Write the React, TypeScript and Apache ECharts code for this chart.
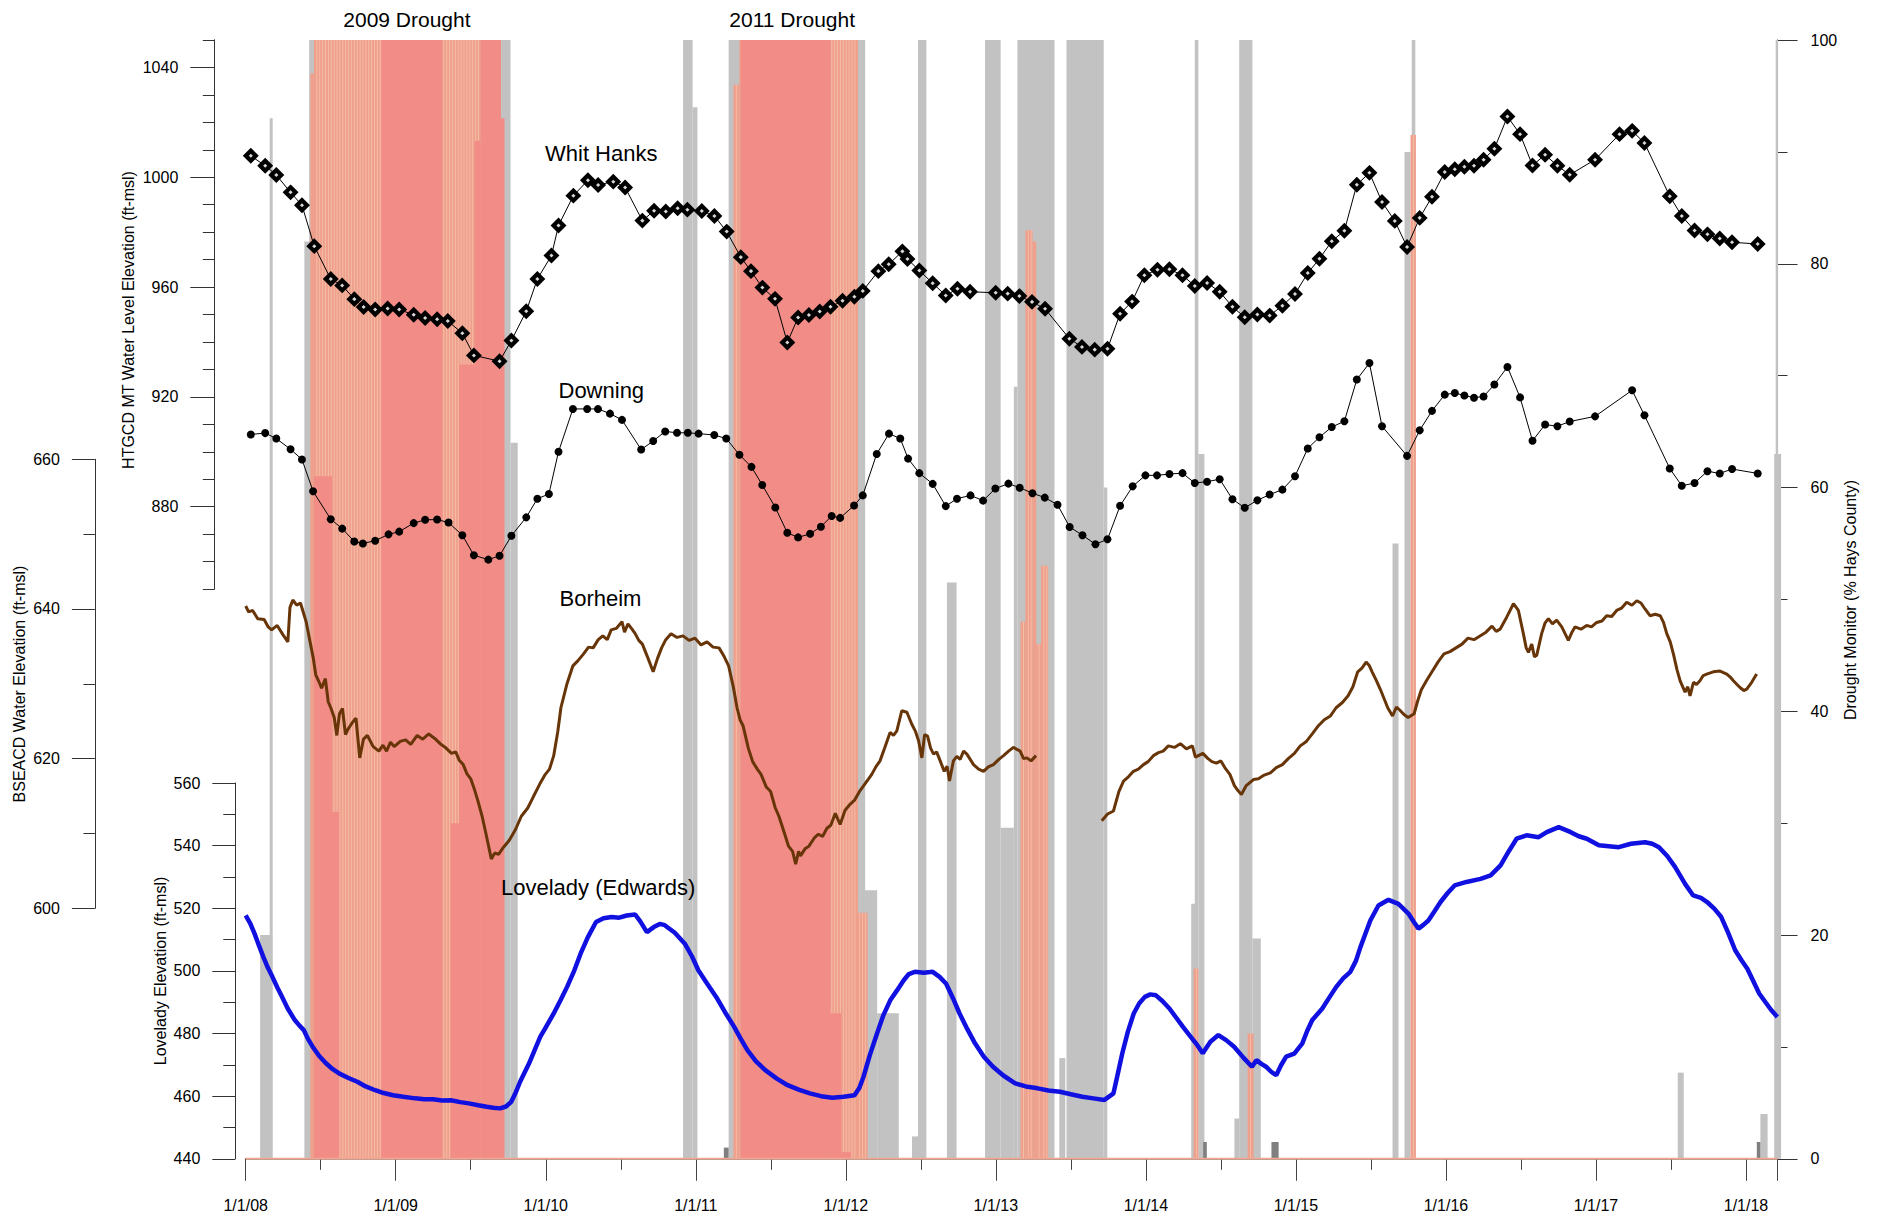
import React, { useEffect, useRef } from 'react';
import * as echarts from 'echarts';

// ---------------- data (x = decimal year) ----------------
const X_MIN = 2008;
const X_MAX = 2018.21;
const YEAR_TICKS = [2008, 2009, 2010, 2011, 2012, 2013, 2014, 2015, 2016, 2017, 2018];
const HTGCD_LABELS = [880, 920, 960, 1000, 1040];
const WEEK = 1 / 52;

const whitHanks: number[][] = [
  [2008.034, 1007.8], [2008.13, 1004.2], [2008.204, 1000.8], [2008.299, 994.5], [2008.375, 989.8], [2008.457, 974.9],
  [2008.567, 962.9], [2008.643, 960.6], [2008.724, 955.6], [2008.786, 952.7], [2008.863, 951.8], [2008.946, 952.2],
  [2009.023, 951.8], [2009.12, 949.9], [2009.196, 948.7], [2009.276, 948.3], [2009.347, 947.6], [2009.444, 943.2],
  [2009.521, 935.1], [2009.692, 933.0], [2009.771, 940.5], [2009.87, 951.2], [2009.944, 962.9], [2010.038, 971.5],
  [2010.085, 982.4], [2010.184, 993.3], [2010.281, 998.9], [2010.349, 997.2], [2010.45, 998.4], [2010.529, 996.3],
  [2010.644, 984.2], [2010.722, 987.8], [2010.8, 987.5], [2010.879, 988.7], [2010.944, 988.2], [2011.04, 987.7],
  [2011.124, 985.9], [2011.206, 980.2], [2011.3, 970.9], [2011.368, 965.8], [2011.444, 959.8], [2011.528, 955.7],
  [2011.61, 939.8], [2011.682, 948.9], [2011.754, 949.8], [2011.826, 951.1], [2011.898, 952.8], [2011.978, 955.0],
  [2012.057, 956.5], [2012.113, 958.6], [2012.217, 965.8], [2012.286, 968.3], [2012.377, 973.0], [2012.411, 970.2],
  [2012.49, 966.0], [2012.579, 961.4], [2012.666, 956.9], [2012.744, 959.4], [2012.828, 958.3], [2012.999, 957.9],
  [2013.079, 957.6], [2013.157, 956.7], [2013.241, 954.6], [2013.328, 952.1], [2013.49, 941.2], [2013.574, 938.2],
  [2013.659, 937.2], [2013.744, 937.5], [2013.828, 950.3], [2013.908, 954.7], [2013.99, 964.3], [2014.077, 966.3],
  [2014.157, 966.5], [2014.244, 964.3], [2014.326, 960.4], [2014.408, 961.5], [2014.492, 958.3], [2014.577, 952.8],
  [2014.659, 949.0], [2014.743, 950.0], [2014.825, 949.6], [2014.91, 953.2], [2014.994, 957.5], [2015.079, 965.1],
  [2015.157, 970.3], [2015.239, 976.7], [2015.323, 980.5], [2015.406, 997.3], [2015.49, 1001.6], [2015.574, 991.0],
  [2015.659, 984.1], [2015.741, 974.6], [2015.825, 985.2], [2015.907, 992.9], [2015.992, 1001.9], [2016.059, 1002.9],
  [2016.123, 1003.8], [2016.187, 1004.2], [2016.251, 1006.4], [2016.323, 1010.4], [2016.41, 1022.1], [2016.494, 1015.7],
  [2016.577, 1004.3], [2016.661, 1008.2], [2016.743, 1004.2], [2016.825, 1000.9], [2016.994, 1006.4], [2017.157, 1015.7],
  [2017.241, 1016.9], [2017.323, 1012.5], [2017.492, 993.1], [2017.572, 985.9], [2017.657, 980.6], [2017.743, 979.2],
  [2017.825, 977.7], [2017.907, 976.3], [2018.078, 975.7]
];

const downing: number[][] = [
  [2008.034, 906.3], [2008.13, 906.8], [2008.204, 904.8], [2008.299, 900.9], [2008.375, 897.2], [2008.449, 885.6],
  [2008.567, 875.4], [2008.643, 872.0], [2008.724, 867.3], [2008.781, 866.6], [2008.863, 867.6], [2008.952, 869.9],
  [2009.023, 870.9], [2009.12, 874.0], [2009.196, 875.2], [2009.276, 875.3], [2009.352, 874.2], [2009.444, 869.6],
  [2009.521, 862.3], [2009.617, 860.7], [2009.692, 862.1], [2009.771, 869.4], [2009.87, 876.1], [2009.944, 882.9],
  [2010.021, 884.6], [2010.085, 900.0], [2010.181, 915.6], [2010.276, 915.6], [2010.348, 915.6], [2010.428, 913.9],
  [2010.508, 911.6], [2010.636, 900.8], [2010.716, 903.9], [2010.796, 907.4], [2010.875, 906.9], [2010.947, 906.9],
  [2011.019, 906.6], [2011.123, 906.1], [2011.203, 904.8], [2011.291, 898.9], [2011.371, 894.5], [2011.443, 887.9],
  [2011.53, 879.7], [2011.61, 870.5], [2011.682, 868.8], [2011.762, 870.1], [2011.834, 872.7], [2011.906, 876.6],
  [2011.962, 875.9], [2012.055, 880.4], [2012.113, 884.1], [2012.206, 899.2], [2012.288, 906.6], [2012.363, 904.8],
  [2012.415, 897.5], [2012.49, 892.2], [2012.579, 888.3], [2012.666, 880.2], [2012.741, 882.9], [2012.831, 884.1],
  [2012.915, 882.2], [2012.997, 886.6], [2013.084, 888.4], [2013.159, 886.9], [2013.244, 884.9], [2013.326, 883.3],
  [2013.411, 880.7], [2013.492, 872.6], [2013.577, 869.6], [2013.664, 866.3], [2013.744, 868.1], [2013.828, 880.3],
  [2013.912, 887.4], [2013.997, 891.4], [2014.074, 891.4], [2014.157, 891.9], [2014.244, 892.2], [2014.326, 888.6],
  [2014.408, 889.1], [2014.492, 890.0], [2014.577, 882.7], [2014.659, 879.6], [2014.743, 882.3], [2014.825, 884.4],
  [2014.91, 886.2], [2014.994, 891.1], [2015.079, 901.2], [2015.157, 905.3], [2015.239, 909.0], [2015.323, 911.1],
  [2015.406, 926.3], [2015.49, 932.3], [2015.574, 909.3], [2015.741, 898.5], [2015.825, 907.8], [2015.907, 914.9],
  [2015.992, 920.8], [2016.059, 921.4], [2016.123, 920.5], [2016.187, 919.7], [2016.251, 920.1], [2016.323, 924.5],
  [2016.41, 930.9], [2016.494, 919.8], [2016.577, 904.0], [2016.661, 909.9], [2016.743, 909.3], [2016.825, 911.0],
  [2016.994, 912.9], [2017.241, 922.4], [2017.323, 913.3], [2017.492, 893.9], [2017.572, 887.6], [2017.657, 888.6],
  [2017.743, 892.9], [2017.825, 892.1], [2017.907, 893.7], [2018.078, 892.1]
];

const borheimA: number[][] = [
  [2008.0, 640.4], [2008.02, 639.6], [2008.046, 639.8], [2008.08, 638.7], [2008.123, 638.6], [2008.15, 637.6],
  [2008.173, 637.2], [2008.21, 637.8], [2008.25, 636.5], [2008.281, 635.6], [2008.295, 640.2],
  [2008.314, 641.2], [2008.34, 640.5], [2008.365, 640.8], [2008.403, 638.3], [2008.429, 635.6], [2008.45, 633.5],
  [2008.467, 631.2], [2008.49, 630.2], [2008.506, 629.4], [2008.531, 630.7], [2008.55, 627.6], [2008.569, 626.7],
  [2008.59, 625.5], [2008.607, 623.1], [2008.625, 626.0], [2008.645, 626.7], [2008.665, 623.2], [2008.684, 624.0],
  [2008.71, 624.8], [2008.735, 625.4], [2008.76, 620.1], [2008.785, 622.6], [2008.811, 623.1], [2008.85, 621.6],
  [2008.888, 621.0], [2008.915, 621.8], [2008.939, 621.0], [2008.965, 622.2], [2008.99, 621.6], [2009.03, 622.3],
  [2009.066, 622.5], [2009.1, 621.9], [2009.143, 623.1], [2009.18, 622.6], [2009.22, 623.3], [2009.26, 622.7],
  [2009.296, 622.0], [2009.33, 621.5], [2009.372, 620.7], [2009.4, 620.9], [2009.423, 619.8], [2009.45, 619.2],
  [2009.474, 618.0], [2009.5, 617.3], [2009.526, 615.8], [2009.55, 614.2], [2009.577, 612.2], [2009.6, 610.1],
  [2009.637, 606.6], [2009.66, 607.4], [2009.685, 607.2], [2009.72, 608.2], [2009.757, 609.1], [2009.8, 610.6],
  [2009.837, 612.3], [2009.88, 613.4], [2009.917, 614.9], [2009.96, 616.6], [2009.997, 617.9], [2010.025, 618.6],
  [2010.053, 620.4], [2010.08, 623.6], [2010.101, 626.8], [2010.14, 629.9], [2010.181, 632.4], [2010.215, 633.1],
  [2010.252, 634.0], [2010.285, 634.9], [2010.316, 634.8], [2010.35, 635.9], [2010.38, 636.4], [2010.41, 635.9],
  [2010.436, 637.2], [2010.47, 637.4], [2010.508, 638.3], [2010.525, 636.9], [2010.548, 638.0], [2010.575, 637.3],
  [2010.596, 636.7], [2010.62, 635.8], [2010.644, 635.3], [2010.68, 633.5], [2010.716, 631.6], [2010.745, 633.4],
  [2010.772, 634.8], [2010.8, 635.9], [2010.835, 636.7], [2010.875, 636.2], [2010.915, 636.4], [2010.955, 635.8],
  [2010.995, 636.1], [2011.035, 635.2], [2011.075, 635.6], [2011.115, 634.9], [2011.155, 634.8], [2011.19, 633.6],
  [2011.219, 632.4], [2011.25, 629.6], [2011.275, 626.8], [2011.295, 625.2], [2011.315, 624.4], [2011.35, 621.4],
  [2011.379, 619.6], [2011.41, 618.6], [2011.435, 617.9], [2011.47, 616.2], [2011.499, 615.6], [2011.53, 613.4],
  [2011.554, 612.3], [2011.59, 610.1], [2011.618, 608.3], [2011.645, 607.6], [2011.666, 605.9], [2011.685, 607.6],
  [2011.698, 607.0], [2011.73, 608.0], [2011.754, 608.3], [2011.79, 609.4], [2011.818, 609.9], [2011.845, 609.6],
  [2011.874, 610.7], [2011.9, 611.1], [2011.93, 612.7], [2011.962, 611.2], [2011.995, 613.1], [2012.028, 613.9],
  [2012.06, 614.5], [2012.094, 615.7], [2012.13, 616.7], [2012.173, 617.9], [2012.2, 618.9], [2012.228, 619.7],
  [2012.26, 621.5], [2012.295, 623.5], [2012.318, 623.1], [2012.34, 623.7], [2012.373, 626.4], [2012.407, 626.2],
  [2012.44, 624.6], [2012.465, 623.6], [2012.485, 622.4], [2012.507, 620.1], [2012.525, 623.2], [2012.545, 623.0],
  [2012.565, 621.4], [2012.585, 620.6], [2012.605, 620.9], [2012.629, 619.7], [2012.656, 618.3], [2012.675, 619.0],
  [2012.691, 617.0], [2012.717, 619.7], [2012.74, 620.3], [2012.762, 619.9], [2012.785, 621.0], [2012.807, 620.6],
  [2012.851, 619.2], [2012.885, 618.6], [2012.918, 618.3], [2012.95, 618.9], [2012.984, 619.2], [2013.02, 619.9],
  [2013.051, 620.4], [2013.085, 621.0], [2013.117, 621.5], [2013.162, 621.0], [2013.185, 620.0], [2013.207, 620.1],
  [2013.235, 619.7], [2013.268, 620.4]
];

const borheimB: number[][] = [
  [2013.706, 611.7], [2013.745, 612.6], [2013.784, 613.0], [2013.82, 615.6], [2013.851, 617.0], [2013.885, 617.6],
  [2013.917, 618.3], [2013.95, 618.6], [2013.984, 619.2], [2014.015, 619.6], [2014.05, 620.4], [2014.084, 620.8],
  [2014.115, 621.0], [2014.15, 621.7], [2014.19, 621.5], [2014.23, 622.0], [2014.27, 621.3], [2014.31, 621.7],
  [2014.33, 620.2], [2014.35, 620.4], [2014.38, 620.7], [2014.414, 620.0], [2014.44, 619.6], [2014.47, 619.4],
  [2014.5, 619.7], [2014.526, 618.8], [2014.56, 617.9], [2014.59, 616.4], [2014.615, 615.7], [2014.637, 615.2],
  [2014.669, 616.4], [2014.717, 617.2], [2014.75, 617.3], [2014.789, 617.8], [2014.83, 618.1], [2014.869, 618.8],
  [2014.91, 619.2], [2014.949, 620.0], [2014.99, 620.7], [2015.029, 621.7], [2015.07, 622.3], [2015.109, 623.3],
  [2015.15, 624.4], [2015.189, 625.2], [2015.23, 625.7], [2015.268, 626.8], [2015.31, 627.5], [2015.348, 628.4],
  [2015.38, 629.6], [2015.412, 631.6], [2015.44, 632.1], [2015.468, 632.9], [2015.49, 632.4], [2015.508, 631.6],
  [2015.535, 630.5], [2015.564, 629.2], [2015.59, 627.9], [2015.612, 626.8], [2015.644, 625.7], [2015.67, 626.9],
  [2015.692, 626.5], [2015.72, 625.9], [2015.748, 625.5], [2015.788, 626.0], [2015.81, 627.6], [2015.836, 629.2],
  [2015.87, 630.4], [2015.907, 631.6], [2015.95, 633.0], [2015.987, 634.0], [2016.027, 634.3], [2016.067, 634.8],
  [2016.107, 635.3], [2016.147, 636.1], [2016.187, 635.9], [2016.227, 636.4], [2016.267, 636.9], [2016.307, 637.7],
  [2016.335, 637.0], [2016.361, 637.3], [2016.405, 638.9], [2016.45, 640.7], [2016.483, 639.8], [2016.516, 636.7],
  [2016.535, 634.8], [2016.55, 634.2], [2016.572, 635.3], [2016.59, 633.6], [2016.605, 633.8], [2016.638, 636.7],
  [2016.66, 638.1], [2016.683, 638.7], [2016.71, 638.0], [2016.738, 638.5], [2016.772, 637.6], [2016.816, 635.8],
  [2016.84, 636.9], [2016.86, 637.6], [2016.9, 637.3], [2016.938, 637.8], [2016.97, 637.6], [2017.005, 638.2],
  [2017.04, 638.4], [2017.071, 639.1], [2017.105, 639.0], [2017.138, 639.8], [2017.17, 640.1], [2017.205, 640.9],
  [2017.24, 640.5], [2017.272, 641.1], [2017.3, 640.8], [2017.327, 640.0], [2017.36, 639.1], [2017.395, 639.3],
  [2017.428, 639.1], [2017.45, 638.2], [2017.472, 636.7], [2017.495, 635.6], [2017.516, 634.0], [2017.54, 631.9],
  [2017.561, 630.4], [2017.594, 628.9], [2017.612, 629.6], [2017.627, 628.4], [2017.65, 630.2], [2017.67, 629.9],
  [2017.693, 630.4], [2017.715, 631.1], [2017.738, 631.3], [2017.782, 631.6], [2017.827, 631.7], [2017.872, 631.3],
  [2017.895, 630.9], [2017.916, 630.4], [2017.94, 629.9], [2017.96, 629.5], [2017.985, 629.1], [2018.005, 629.3],
  [2018.038, 630.2], [2018.071, 631.3]
];

const lovelady: number[][] = [
  [2008.0, 517.7], [2008.03, 515.2], [2008.059, 511.9], [2008.09, 507.9], [2008.118, 504.4], [2008.148, 501.0],
  [2008.178, 498.1], [2008.21, 494.8], [2008.237, 492.2], [2008.28, 488.0], [2008.327, 484.3], [2008.357, 482.6],
  [2008.387, 481.1], [2008.415, 478.3], [2008.446, 475.8], [2008.49, 472.8], [2008.535, 470.5], [2008.58, 468.6],
  [2008.625, 467.2], [2008.685, 465.8], [2008.744, 464.6], [2008.8, 463.1], [2008.863, 461.9], [2008.92, 461.0],
  [2008.982, 460.3], [2009.05, 459.8], [2009.13, 459.3], [2009.19, 459.0], [2009.249, 459.0], [2009.31, 458.6],
  [2009.368, 458.7], [2009.43, 458.1], [2009.487, 457.7], [2009.55, 457.1], [2009.606, 456.6], [2009.65, 456.3],
  [2009.696, 456.1], [2009.735, 456.7], [2009.77, 458.2], [2009.8, 461.2], [2009.829, 464.6], [2009.889, 470.5],
  [2009.963, 478.9], [2010.0, 482.0], [2010.053, 486.4], [2010.1, 490.8], [2010.142, 494.9], [2010.19, 500.1],
  [2010.232, 505.5], [2010.28, 510.7], [2010.335, 515.6], [2010.385, 516.8], [2010.439, 517.2], [2010.49, 517.0],
  [2010.54, 517.7], [2010.596, 518.0], [2010.63, 515.8], [2010.674, 512.4], [2010.72, 514.0], [2010.76, 515.0],
  [2010.793, 514.6], [2010.86, 512.2], [2010.927, 508.7], [2010.975, 504.6], [2011.017, 500.2], [2011.075, 496.0],
  [2011.136, 491.7], [2011.195, 486.8], [2011.255, 482.2], [2011.3, 478.3], [2011.344, 474.7], [2011.4, 471.2],
  [2011.463, 468.3], [2011.54, 465.6], [2011.612, 463.5], [2011.69, 462.0], [2011.761, 460.9], [2011.835, 460.0],
  [2011.91, 459.5], [2011.985, 459.8], [2012.058, 460.3], [2012.09, 462.6], [2012.118, 466.2], [2012.16, 473.1],
  [2012.208, 480.0], [2012.25, 485.8], [2012.296, 490.6], [2012.34, 493.7], [2012.386, 497.0], [2012.42, 499.0],
  [2012.46, 499.7], [2012.52, 499.4], [2012.579, 499.7], [2012.625, 498.1], [2012.669, 495.9], [2012.715, 491.2],
  [2012.758, 486.4], [2012.81, 481.4], [2012.862, 476.8], [2012.92, 472.6], [2012.981, 469.4], [2013.05, 466.6],
  [2013.129, 464.1], [2013.2, 463.1], [2013.279, 462.5], [2013.35, 461.8], [2013.427, 461.4], [2013.5, 460.6],
  [2013.576, 459.8], [2013.65, 459.3], [2013.724, 458.8], [2013.784, 460.9], [2013.81, 466.5], [2013.843, 473.7],
  [2013.88, 480.6], [2013.919, 486.4], [2013.955, 489.6], [2013.993, 491.7], [2014.03, 492.5], [2014.067, 492.2],
  [2014.11, 490.4], [2014.157, 488.0], [2014.2, 485.2], [2014.246, 482.2], [2014.29, 479.5], [2014.335, 476.8],
  [2014.379, 473.7], [2014.43, 477.4], [2014.483, 479.5], [2014.535, 477.9], [2014.588, 475.8], [2014.65, 472.3],
  [2014.707, 469.4], [2014.737, 471.5], [2014.77, 470.3], [2014.801, 469.4], [2014.835, 467.8], [2014.869, 466.7],
  [2014.9, 469.8], [2014.935, 472.6], [2014.989, 473.6], [2015.042, 476.8], [2015.075, 480.8], [2015.109, 484.3],
  [2015.176, 488.0], [2015.22, 491.3], [2015.269, 494.9], [2015.315, 497.6], [2015.363, 499.7], [2015.4, 503.2],
  [2015.43, 507.6], [2015.465, 512.1], [2015.496, 516.1], [2015.55, 520.9], [2015.617, 522.7], [2015.683, 521.4],
  [2015.75, 518.3], [2015.785, 515.7], [2015.817, 513.5], [2015.85, 514.7], [2015.883, 516.1], [2015.925, 519.1],
  [2015.964, 522.0], [2016.01, 524.8], [2016.058, 527.3], [2016.137, 528.4], [2016.231, 529.4], [2016.298, 530.5],
  [2016.364, 533.7], [2016.42, 538.3], [2016.471, 542.2], [2016.538, 543.3], [2016.618, 542.7], [2016.672, 544.3],
  [2016.752, 545.9], [2016.832, 544.3], [2016.885, 543.0], [2016.939, 542.2], [2017.019, 540.1], [2017.085, 539.8],
  [2017.152, 539.5], [2017.233, 540.6], [2017.327, 541.1], [2017.375, 540.6], [2017.42, 539.5], [2017.475, 536.7],
  [2017.527, 533.2], [2017.594, 527.8], [2017.648, 524.1], [2017.7, 523.3], [2017.741, 522.0], [2017.79, 519.8],
  [2017.835, 517.2], [2017.88, 512.3], [2017.928, 506.6], [2017.97, 503.4], [2018.009, 500.7], [2018.05, 496.6],
  [2018.088, 492.8], [2018.13, 490.0], [2018.168, 487.5], [2018.209, 485.3]
];

// Drought monitor (% Hays County): [start, end, percent]
const grayBars: number[][] = [
  [2008.096, 2008.176, 20], [2008.16, 2008.18, 93], [2008.391, 2008.455, 82], [2008.423, 2009.765, 100],
  [2009.765, 2009.813, 64], [2010.915, 2010.979, 100], [2010.979, 2011.011, 94], [2011.219, 2012.129, 100],
  [2012.121, 2012.209, 24], [2012.209, 2012.353, 13], [2012.441, 2012.481, 2], [2012.481, 2012.537, 100],
  [2012.674, 2012.738, 51.5], [2012.928, 2013.032, 100], [2013.032, 2013.12, 29.6], [2013.12, 2013.144, 69],
  [2013.144, 2013.391, 100], [2013.423, 2013.463, 9], [2013.471, 2013.719, 100], [2013.719, 2013.743, 60],
  [2014.302, 2014.334, 22.8], [2014.326, 2014.35, 100], [2014.35, 2014.39, 63], [2014.59, 2014.622, 3.6],
  [2014.622, 2014.71, 100], [2014.71, 2014.766, 19.7], [2015.644, 2015.684, 55], [2015.724, 2015.764, 90],
  [2015.772, 2015.796, 100], [2017.545, 2017.585, 7.7], [2018.096, 2018.144, 4], [2018.188, 2018.234, 63],
  [2018.198, 2018.214, 100]
];
const darkBars: number[][] = [
  [2011.187, 2011.219, 1], [2014.382, 2014.406, 1.5], [2014.837, 2014.885, 1.5], [2018.072, 2018.096, 1.5]
];
const salmonBars: number[][] = [
  [2008.431, 2008.455, 97], [2008.455, 2009.701, 100], [2011.251, 2011.291, 96], [2011.291, 2012.081, 100],
  [2012.073, 2012.145, 22], [2013.165, 2013.197, 48], [2013.197, 2013.245, 83], [2013.245, 2013.269, 82],
  [2013.269, 2013.301, 46], [2013.301, 2013.349, 53], [2014.318, 2014.35, 17], [2014.678, 2014.718, 11.2],
  [2015.764, 2015.8, 91.5]
];
const redBars: number[][] = [
  [2008.455, 2008.575, 61], [2008.575, 2008.623, 31], [2008.903, 2009.31, 100], [2009.366, 2009.422, 30],
  [2009.422, 2009.526, 71], [2009.526, 2009.565, 91], [2009.565, 2009.701, 100], [2009.701, 2009.725, 93],
  [2011.3, 2011.898, 100], [2011.898, 2011.97, 13], [2011.97, 2012.034, 0.6]
];

// ---------------- chart ----------------
const FONT = 'Arial, "Liberation Sans", sans-serif';
const GRID_LEFT = 245.7;
const GRID_RIGHT = 101.5;
const AX = '#333';

function barSeries(name: string, data: number[][], color: string, z: number, stripe?: string) {
  return {
    type: 'custom',
    name,
    xAxisIndex: 0,
    yAxisIndex: 0,
    z,
    clip: false,
    silent: true,
    data,
    encode: { x: [0, 1], y: 2 },
    renderItem: (_p: any, api: any) => {
      const t0 = api.value(0);
      const t1 = api.value(1);
      const a = api.coord([t0, api.value(2)]);
      const b = api.coord([t1, 0]);
      const children: any[] = [
        {
          type: 'rect',
          shape: { x: a[0], y: a[1], width: Math.max(b[0] - a[0], 1), height: b[1] - a[1] },
          style: { fill: color }
        }
      ];
      if (stripe) {
        for (let t = t0 + WEEK; t < t1 - WEEK / 4; t += WEEK) {
          const px = api.coord([t, 0])[0];
          children.push({
            type: 'line',
            shape: { x1: px, y1: a[1], x2: px, y2: b[1] },
            style: { stroke: stripe, lineWidth: 0.8 }
          });
        }
      }
      return { type: 'group', children };
    }
  };
}

function hiddenX(gridIndex: number) {
  return { gridIndex, type: 'value', min: X_MIN, max: X_MAX, show: false };
}

function yTickAxis(gridIndex: number, min: number, max: number, interval: number, offset: number, major: number, minor: number) {
  return {
    gridIndex, type: 'value', position: 'left', offset, min, max, interval,
    axisLine: { show: true, lineStyle: { color: AX, width: 1 } },
    axisTick: { show: true, length: major, lineStyle: { color: AX } },
    minorTick: { show: true, splitNumber: 2, length: minor, lineStyle: { color: AX } },
    axisLabel: { show: true, margin: 35, fontSize: 16, color: '#000', fontFamily: FONT },
    splitLine: { show: false }
  };
}

function txt(text: string, x: number, y: number, size: number, align: string, rot = 0) {
  return {
    type: 'text', x, y, rotation: rot, silent: true, z: 100, zlevel: 0,
    style: { text, font: `${size}px ${FONT}`, fill: '#000', align, verticalAlign: 'middle', textAlign: align, textVerticalAlign: 'middle' }
  };
}

export default function App() {
  const ref = useRef<HTMLDivElement>(null);
  useEffect(() => {
    if (!ref.current) return;
    const chart = echarts.init(ref.current, undefined, { renderer: 'svg' });
    const option: any = {
      animation: false,
      backgroundColor: '#ffffff',
      textStyle: { fontFamily: FONT },
      grid: [
        { left: GRID_LEFT, right: GRID_RIGHT, top: 40, bottom: 60.2 },
        { left: GRID_LEFT, right: GRID_RIGHT, top: 40, height: 549 },
        { left: GRID_LEFT, right: GRID_RIGHT, top: 459.3, height: 449 },
        { left: GRID_LEFT, right: GRID_RIGHT, top: 783, height: 375.8 }
      ],
      xAxis: [
        {
          gridIndex: 0, type: 'value', min: X_MIN, max: X_MAX, interval: 1, offset: 3,
          axisLine: { show: true, lineStyle: { color: '#8f8f8f', width: 2 } },
          axisTick: { show: true, length: 22, lineStyle: { color: '#444' } },
          minorTick: { show: true, splitNumber: 2, length: 11, lineStyle: { color: '#444' } },
          axisLabel: {
            show: true, margin: 36, fontSize: 16, color: '#000', fontFamily: FONT,
            formatter: (v: number) => (YEAR_TICKS.indexOf(v) >= 0 ? `1/1/${String(v % 100).padStart(2, '0')}` : '')
          },
          splitLine: { show: false }
        },
        hiddenX(1), hiddenX(2), hiddenX(3)
      ],
      yAxis: [
        {
          gridIndex: 0, type: 'value', position: 'right', offset: 0, min: 0, max: 100, interval: 20,
          axisLine: { show: true, lineStyle: { color: AX, width: 1 } },
          axisTick: { show: true, length: 20, lineStyle: { color: AX } },
          minorTick: { show: true, splitNumber: 2, length: 10, lineStyle: { color: AX } },
          axisLabel: { show: true, margin: 33, fontSize: 16, color: '#000', fontFamily: FONT },
          splitLine: { show: false }
        },
        {
          gridIndex: 1, type: 'value', position: 'left', offset: 31.4, min: 850, max: 1050, interval: 10,
          axisLine: { show: true, lineStyle: { color: AX, width: 1 } },
          axisTick: { show: true, length: 24, customValues: HTGCD_LABELS, lineStyle: { color: AX } },
          axisLabel: {
            show: true, margin: 36, fontSize: 16, color: '#000', fontFamily: FONT, customValues: HTGCD_LABELS,
            formatter: (v: number) => (HTGCD_LABELS.indexOf(v) >= 0 ? String(v) : '')
          },
          splitLine: { show: false }
        },
        {
          gridIndex: 1, type: 'value', position: 'left', offset: 31.4, min: 850, max: 1050, interval: 10,
          axisLine: { show: true, lineStyle: { color: AX, width: 1 } },
          axisTick: { show: true, length: 11.5, lineStyle: { color: AX } },
          axisLabel: { show: false },
          splitLine: { show: false }
        },
        yTickAxis(2, 600, 660, 20, 150.8, 23, 11.5),
        yTickAxis(3, 440, 560, 20, 10.4, 23, 12)
      ],
      graphic: {
        elements: [
          txt('2009 Drought', 343.3, 19, 21, 'left'),
          txt('2011 Drought', 729.3, 19, 21, 'left'),
          txt('Whit Hanks', 545, 153, 22, 'left'),
          txt('Downing', 558.5, 390, 22, 'left'),
          txt('Borheim', 559.5, 598, 22, 'left'),
          txt('Lovelady (Edwards)', 501, 887, 22, 'left'),
          txt('HTGCD MT Water Level Elevation (ft-msl)', 128, 320, 16, 'center', Math.PI / 2),
          txt('BSEACD Water Elevation (ft-msl)', 19, 684, 16, 'center', Math.PI / 2),
          txt('Lovelady Elevation (ft-msl)', 160, 971, 16, 'center', Math.PI / 2),
          txt('Drought Monitor (% Hays County)', 1850, 600, 16, 'center', Math.PI / 2)
        ]
      },
      series: [
        barSeries('D0-D4', grayBars, '#c2c2c2', 1),
        barSeries('D1', darkBars, '#7f7f7f', 2),
        barSeries('D3', salmonBars, '#efa08c', 3, '#f6c3ad'),
        barSeries('D4', redBars, '#f28c87', 4),
        {
          type: 'line', name: 'zero', xAxisIndex: 0, yAxisIndex: 0, z: 5, silent: true,
          data: [[X_MIN, 0], [X_MAX, 0]], symbol: 'none',
          lineStyle: { color: '#f0a690', width: 2 }
        },
        {
          type: 'line', name: 'Whit Hanks', xAxisIndex: 1, yAxisIndex: 1, z: 10, data: whitHanks,
          symbol: 'diamond', symbolSize: 10, showSymbol: true,
          lineStyle: { color: '#000', width: 1 },
          itemStyle: { color: '#d8d8d8', borderColor: '#000', borderWidth: 4.2 }
        },
        {
          type: 'line', name: 'Downing', xAxisIndex: 1, yAxisIndex: 1, z: 10, data: downing,
          symbol: 'circle', symbolSize: 8, showSymbol: true,
          lineStyle: { color: '#000', width: 1 },
          itemStyle: { color: '#000' }
        },
        {
          type: 'line', name: 'Borheim', xAxisIndex: 2, yAxisIndex: 3, z: 10, data: borheimA,
          symbol: 'none', lineStyle: { color: '#683509', width: 3 }
        },
        {
          type: 'line', name: 'Borheim B', xAxisIndex: 2, yAxisIndex: 3, z: 10, data: borheimB,
          symbol: 'none', lineStyle: { color: '#683509', width: 3 }
        },
        {
          type: 'line', name: 'Lovelady', xAxisIndex: 3, yAxisIndex: 4, z: 10, data: lovelady,
          symbol: 'none', lineStyle: { color: '#1010e0', width: 4.5 }
        }
      ]
    };
    chart.setOption(option);
    return () => chart.dispose();
  }, []);
  return <div ref={ref} style={{ position: 'absolute', left: 0, top: 0, width: 1879, height: 1219 }} />;
}
